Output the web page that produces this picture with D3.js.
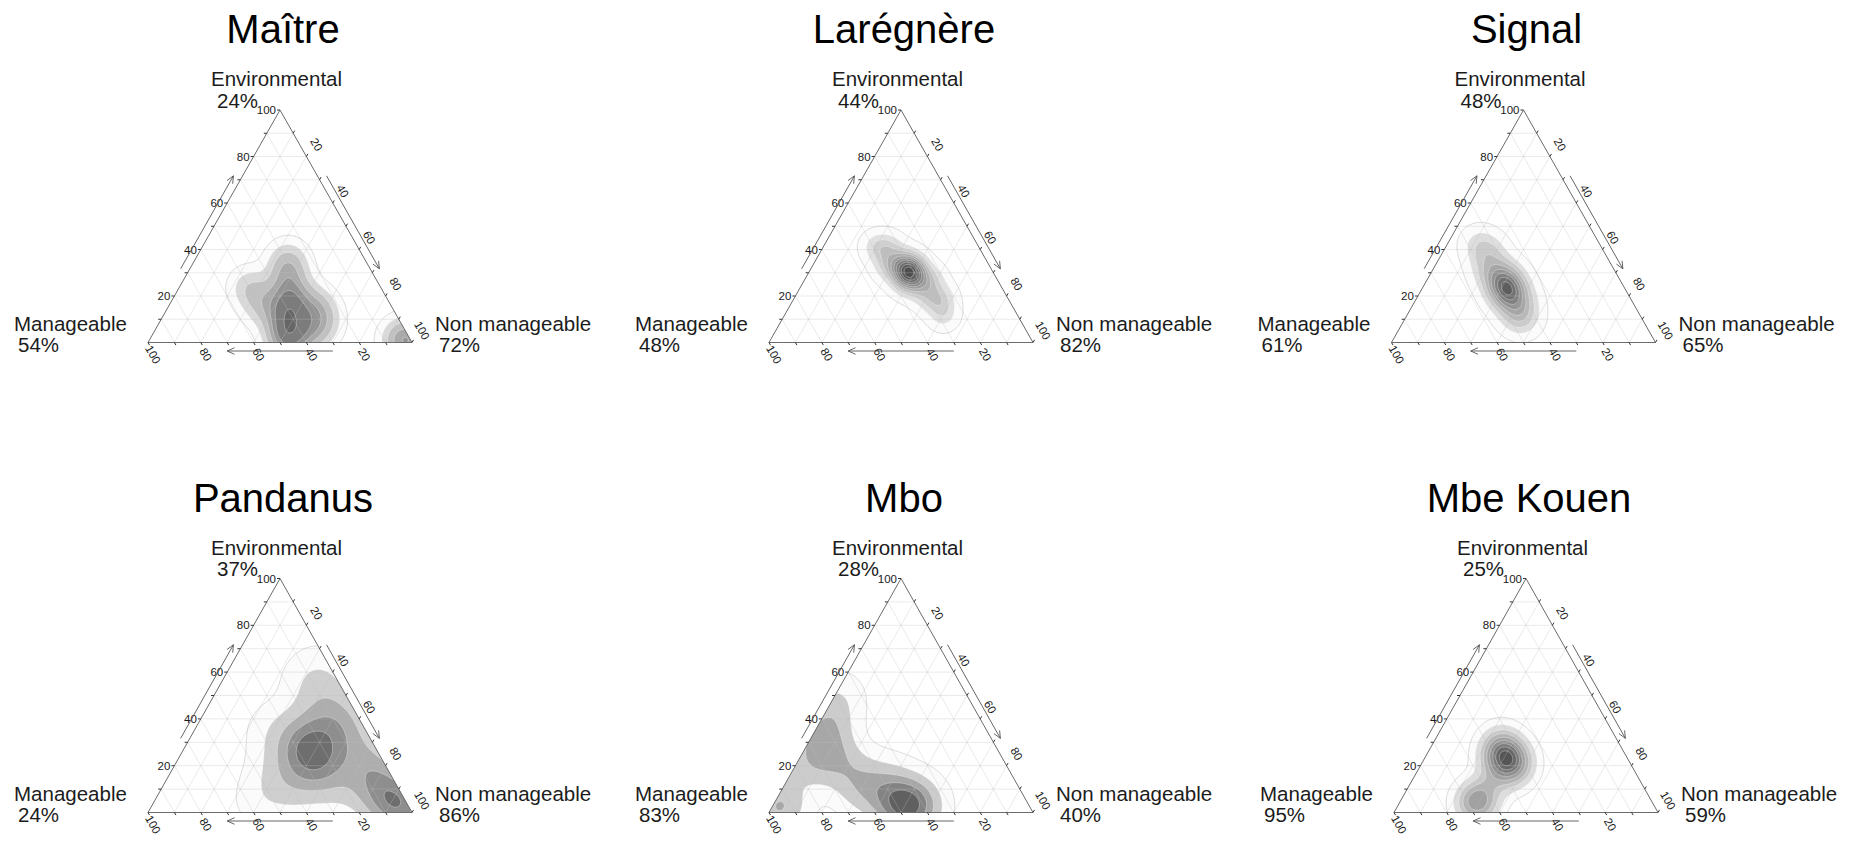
<!DOCTYPE html>
<html>
<head>
<meta charset="utf-8">
<script src="https://cdn.jsdelivr.net/npm/d3@7/dist/d3.min.js"></script>
<style>
  html, body { margin: 0; padding: 0; background: #ffffff; }
  svg { display: block; font-family: "Liberation Sans", Arial, sans-serif; }
</style>
</head>
<body>
<svg id="chart" width="1859" height="842"></svg>
<script>
// ---------------- data ----------------
const siteNames = ["Maître", "Larégnère", "Signal", "Pandanus", "Mbo", "Mbe Kouen"];
const cornerNames = ["Environmental", "Manageable", "Non manageable"];
const environmentalPct = [24, 44, 48, 37, 28, 25];
const manageablePct = [54, 48, 61, 24, 83, 95];
const nonManageablePct = [72, 82, 65, 86, 40, 59];
const axisLabels = [20, 40, 60, 80, 100];
const axisTicks = [10, 20, 30, 40, 50, 60, 70, 80, 90, 100];

// responses per site, each [Environmental, Manageable, Non manageable] in %
const obsMaitre = [
  [0,47,53],[1,47,52],[2,46,52],[4,45,51],[6,44,50],[8,43,49],[10,42,48],[12,41,47],
  [14,40,46],[16,39,45],[18,38,44],[20,37,43],[24,34,42],[28,33,39],[32,31,37],[36,29,35],
  [14,49,37],[20,48,32],[6,35,59],[12,32,56],[18,30,52],[3,38,59],
  [8,30,62],[14,28,58],[24,50,26],
  [1,1,98],[0,1,99],[2,2,96],[1,4,95]
];
const obsLaregnere = [
  [41,39,20],[41,34,25],[33,39,28],[34,34,32],[35,30,35],[28,36,36],[30,32,38],[30,32,38],
  [31,31,38],[32,28,40],[25,34,41],[26,30,44],[27,25,48],[19,30,51],[19,25,56],[12,28,60]
];
const obsSignal = [
  [42,46,12],[39,43,18],[32,48,20],[30,45,25],[29,42,29],[25,47,28],[24,45,31],[24,45,31],
  [24,42,34],[20,47,33],[18,45,37],[17,42,41],[12,47,41],[10,45,45],[22,44,34]
];
const obsPandanus = [
  [26,25,49],[28,24,48],[24,26,50],[27,27,46],[25,23,52],[29,26,45],[23,27,50],[35,20,45],
  [18,30,52],[15,22,63],[33,30,37],[40,18,42],[20,20,60],[30,15,55],[45,10,45],[50,5,45],
  [38,8,54],[12,35,53],[8,42,50],[22,38,40],[10,25,65],[6,14,80],[4,8,88],[2,4,94],
  [1,2,97],[2,1,97],[0,3,97],[3,2,95],[55,12,33],[15,45,40],[5,55,40],[35,35,30],[60,5,35],
  [40,5,55],[30,5,65],[20,5,75],[25,8,67],[35,10,55],[15,8,77],[10,5,85],
  [8,4,88],[12,6,82],[18,6,76],[5,3,92]
];
const obsMbo = [
  [3,46,51],[2,48,50],[4,44,52],[1,45,54],[5,47,48],[2,50,48],[6,43,51],[1,42,57],
  [3,52,45],[4,40,56],[8,50,42],[10,54,36],[13,57,30],[16,60,24],[20,62,18],[24,63,13],
  [28,64,8],[33,62,5],[38,58,4],[8,62,30],[14,48,38],[44,54,2],[50,48,2],
  [18,78,4],[26,72,2],[34,64,2],[22,70,8],
  [1,97,2],[3,94,3],[2,96,2],[4,92,4]
];
const obsMbeKouen = [
  [23,46,31],[23,46,31],[23,46,31],[25,44,31],[21,48,31],[26,47,27],[20,45,35],[27,44,29],
  [19,49,32],[24,41,35],[22,51,27],[28,42,30],[18,44,38],[29,47,24],[31,44,25],[16,48,36],
  [25,50,25],[21,42,37],
  [5,67,28],[4,68,28],[6,65,29],[3,70,27],[7,66,27],[2,66,32],[4,63,33],
  [11,59,30],[14,55,31]
];
const siteObservations = [obsMaitre, obsLaregnere, obsSignal, obsPandanus, obsMbo, obsMbeKouen];

// ---------------- drawing settings ----------------
const SIDE = 264;
const panelFrames = [
  { topX: 280,    topY: 110,   baseY: 342.5 },
  { topX: 901,    topY: 110,   baseY: 342.5 },
  { topX: 1523.5, topY: 110,   baseY: 342.5 },
  { topX: 280,    topY: 578.5, baseY: 812.5 },
  { topX: 901,    topY: 578.5, baseY: 812.5 },
  { topX: 1526,   topY: 578.5, baseY: 812.5 }
];
// kernel bandwidth (fraction of the triangle side), contour levels (share of peak density), darkest grey
const densityStyle = [
  { bw: 0.048, levels: [0.03, 0.10, 0.20, 0.34, 0.48, 0.64, 0.93], dark: "#666666" },
  { bw: 0.038, levels: [0.03, 0.12, 0.21, 0.30, 0.39, 0.48, 0.57, 0.66, 0.75, 0.84, 0.93], dark: "#4d4d4d" },
  { bw: 0.045, levels: [0.03, 0.12, 0.22, 0.34, 0.46, 0.58, 0.70, 0.82, 0.93], dark: "#5e5e5e" },
  { bw: 0.070, levels: [0.05, 0.20, 0.40, 0.60, 0.80], dark: "#6e6e6e" },
  { bw: 0.065, levels: [0.05, 0.20, 0.40, 0.60, 0.80], dark: "#606060" },
  { bw: 0.045, levels: [0.03, 0.10, 0.20, 0.30, 0.42, 0.54, 0.66, 0.78, 0.90], dark: "#555555" }
];

const svg = d3.select("#chart");
const defs = svg.append("defs");
const SQ3 = Math.sqrt(3) / 2;

function arrowPath(x1, y1, x2, y2) {
  // shaft plus an open head at (x2, y2)
  const a = Math.atan2(y2 - y1, x2 - x1), L = 8, w = 0.42;
  const h1 = [x2 - L * Math.cos(a - w), y2 - L * Math.sin(a - w)];
  const h2 = [x2 - L * Math.cos(a + w), y2 - L * Math.sin(a + w)];
  return `M${x1},${y1}L${x2},${y2}M${h1[0]},${h1[1]}L${x2},${y2}L${h2[0]},${h2[1]}`;
}

siteNames.forEach((name, idx) => {
  const f = panelFrames[idx];
  const st = densityStyle[idx];
  const blX = f.topX - SIDE / 2, brX = f.topX + SIDE / 2;
  // u: horizontal position (0 at Manageable corner, 1 at Non manageable), v: Environmental share
  const xS = d3.scaleLinear().domain([0, 1]).range([blX, brX]);
  const yS = d3.scaleLinear().domain([0, 1]).range([f.baseY, f.topY]);
  const pt = (e, m, n) => { const s = e + m + n; return [xS((n + e / 2) / s), yS(e / s)]; };

  const g = svg.append("g");
  const clipId = "clip" + idx;
  const corners = [pt(100, 0, 0), pt(0, 100, 0), pt(0, 0, 100)];
  defs.append("clipPath").attr("id", clipId)
    .append("path").attr("d", "M" + corners.join("L") + "Z");

  // ---- kernel density on a grid in triangle coordinates ----
  const nx = 200, ny = 180;
  const obs = siteObservations[idx].map(([e, m, n]) => {
    const s = e + m + n; return [(n + e / 2) / s, e / s];
  });
  const values = new Float64Array(nx * ny);
  const h2 = 2 * st.bw * st.bw;
  for (let j = 0; j < ny; j++) {
    const v = 1 - (j + 0.5) / ny;
    for (let i = 0; i < nx; i++) {
      const u = (i + 0.5) / nx;
      let s = 0;
      for (const [ou, ov] of obs) {
        const dx = u - ou, dy = (v - ov) * SQ3;
        s += Math.exp(-(dx * dx + dy * dy) / h2);
      }
      values[j * nx + i] = s;
    }
  }
  // peak inside the triangle
  let peak = 0;
  for (let j = 0; j < ny; j++) {
    const v = 1 - (j + 0.5) / ny;
    for (let i = 0; i < nx; i++) {
      const u = (i + 0.5) / nx;
      if (v <= 2 * Math.min(u, 1 - u) + 1e-9) peak = Math.max(peak, values[j * nx + i]);
    }
  }
  const thresholds = st.levels.map(l => l * peak);
  const bands = d3.contours().size([nx, ny]).thresholds(thresholds)(values);
  const proj = d3.geoTransform({
    point(x, y) { this.stream.point(xS(x / nx), yS(1 - y / ny)); }
  });
  const path = d3.geoPath(proj);
  const nL = st.levels.length;
  const grey = d3.interpolateRgb("#f3f3f3", st.dark);

  const fillG = g.append("g").attr("clip-path", `url(#${clipId})`);
  fillG.selectAll("path.band").data(bands).join("path")
    .attr("class", "band")
    .attr("d", path)
    .attr("fill", (d, i) => i === 0 ? "#fbfbfb" : grey(Math.pow(i / (nL - 1), 0.95)))
    .attr("stroke", (d, i) => i === 0 ? "#c4c4c4" : "rgba(255,255,255,0.55)")
    .attr("stroke-width", 0.6);

  // ---- grid every 10 % ----
  const gridG = g.append("g").attr("stroke", "#bdbdbd").attr("stroke-opacity", 0.4)
    .attr("stroke-width", 0.8).attr("fill", "none");
  const gridLines = [];
  d3.range(10, 100, 10).forEach(k => {
    gridLines.push([pt(k, 100 - k, 0), pt(k, 0, 100 - k)]);   // Environmental
    gridLines.push([pt(100 - k, 0, k), pt(0, 100 - k, k)]);   // Non manageable
    gridLines.push([pt(100 - k, k, 0), pt(0, k, 100 - k)]);   // Manageable
  });
  gridG.selectAll("line").data(gridLines).join("line")
    .attr("x1", d => d[0][0]).attr("y1", d => d[0][1])
    .attr("x2", d => d[1][0]).attr("y2", d => d[1][1]);

  // ---- triangle outline ----
  g.append("path").attr("d", "M" + corners.join("L") + "Z")
    .attr("fill", "none").attr("stroke", "#6b6b6b").attr("stroke-width", 1);

  // ---- ticks and labels ----
  const tickG = g.append("g").attr("stroke", "#333").attr("stroke-width", 1);
  const labG = g.append("g").attr("fill", "#1a1a1a").attr("font-size", 11.5);
  axisTicks.forEach(t => {
    const a = pt(t, 100 - t, 0);
    tickG.append("line").attr("x1", a[0]).attr("y1", a[1]).attr("x2", a[0] - 3).attr("y2", a[1]);
    const b = pt(100 - t, 0, t);
    tickG.append("line").attr("x1", b[0]).attr("y1", b[1]).attr("x2", b[0] + 1.5).attr("y2", b[1] - 2.6);
    const c = pt(0, t, 100 - t);
    tickG.append("line").attr("x1", c[0]).attr("y1", c[1]).attr("x2", c[0] + 1.5).attr("y2", c[1] + 2.6);
  });
  axisLabels.forEach(t => {
    const a = pt(t, 100 - t, 0);
    labG.append("text").attr("x", a[0] - 4).attr("y", a[1]).attr("dy", "0.35em")
      .attr("text-anchor", "end").text(t);
    const b = pt(100 - t, 0, t);
    labG.append("text").attr("text-anchor", "middle").attr("dy", "0.35em")
      .attr("transform", `translate(${b[0] + 10},${b[1] - 12}) rotate(60)`).text(t);
    const c = pt(0, t, 100 - t);
    labG.append("text").attr("text-anchor", "middle").attr("dy", "0.35em")
      .attr("transform", `translate(${c[0] + 5},${c[1] + 12}) rotate(60)`).text(t);
  });

  // ---- direction arrows ----
  const arrG = g.append("g").attr("stroke", "#555").attr("stroke-width", 0.9).attr("fill", "none");
  const off = 8;
  const nLeft = [-0.870, -0.494], nRight = [0.870, -0.494];
  const la = pt(30, 70, 0), lb = pt(70, 30, 0);
  arrG.append("path").attr("d", arrowPath(la[0] + nLeft[0] * off, la[1] + nLeft[1] * off, lb[0] + nLeft[0] * off, lb[1] + nLeft[1] * off));
  const ra = pt(70, 0, 30), rb = pt(30, 0, 70);
  arrG.append("path").attr("d", arrowPath(ra[0] + nRight[0] * off, ra[1] + nRight[1] * off, rb[0] + nRight[0] * off, rb[1] + nRight[1] * off));
  const ba = pt(0, 30, 70), bb = pt(0, 70, 30);
  arrG.append("path").attr("d", arrowPath(ba[0], ba[1] + 8.5, bb[0], bb[1] + 8.5));

  // ---- corner names with shares ----
  const nameG = g.append("g").attr("fill", "#1c1c1c").attr("font-size", 20.5);
  nameG.append("text").attr("x", f.topX - 69).attr("y", f.topY - 24).text(cornerNames[0]);
  nameG.append("text").attr("x", f.topX - 63).attr("y", f.topY - 2.5).text(environmentalPct[idx] + "%");
  nameG.append("text").attr("x", blX - 134).attr("y", f.baseY - 12).text(cornerNames[1]);
  nameG.append("text").attr("x", blX - 130).attr("y", f.baseY + 9.5).text(manageablePct[idx] + "%");
  nameG.append("text").attr("x", brX + 23).attr("y", f.baseY - 12).text(cornerNames[2]);
  nameG.append("text").attr("x", brX + 27).attr("y", f.baseY + 9.5).text(nonManageablePct[idx] + "%");

  // ---- site title ----
  g.append("text").attr("x", f.topX + 3).attr("y", f.topY - 67)
    .attr("text-anchor", "middle").attr("font-size", 40).attr("fill", "#000").text(name);
});
</script>
</body>
</html>
